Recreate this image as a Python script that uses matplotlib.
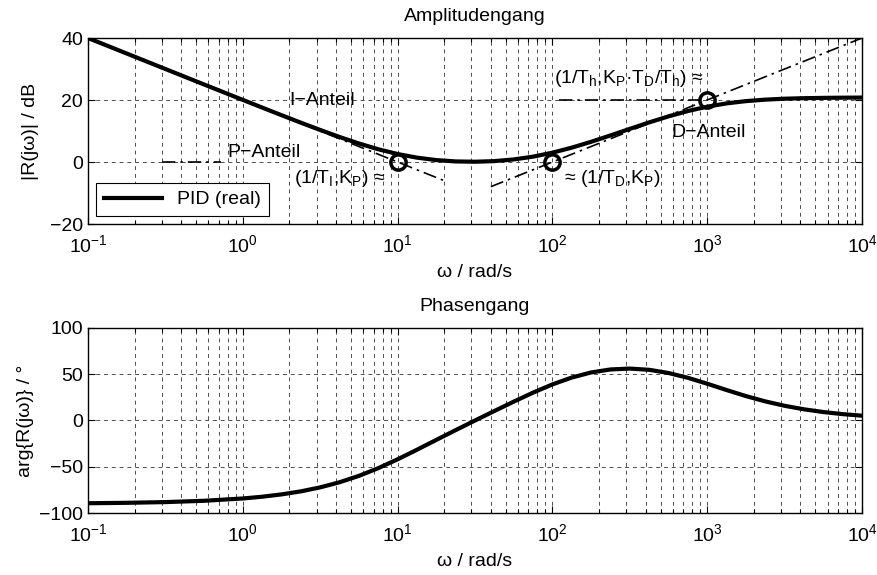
import matplotlib
matplotlib.use("Agg")
import matplotlib.pyplot as plt
from matplotlib.ticker import LogLocator, NullFormatter

plt.rcParams["font.family"] = ["Liberation Sans", "DejaVu Sans"]
plt.rcParams["mathtext.fontset"] = "custom"
plt.rcParams["mathtext.rm"] = "Liberation Sans"
plt.rcParams["mathtext.it"] = "Liberation Sans"
plt.rcParams["mathtext.default"] = "regular"
plt.rcParams["axes.unicode_minus"] = True

FS = 14

# PID (real): frequency points and values
w = [0.1, 0.1778, 0.3162, 0.5623, 1.0, 1.3335, 1.778, 2.3714, 3.162, 4.217,
     5.623, 7.499, 10.0, 13.335, 17.78, 23.714, 31.62, 42.17, 56.23, 74.99,
     100.0, 133.35, 177.8, 237.14, 316.2, 421.7, 562.3, 749.9, 1000.0, 1333.5,
     1778.0, 2371.4, 3162.0, 4217.0, 5623.0, 7499.0, 10000.0]
mag_db = [40.0, 35.0, 30.0, 25.01, 20.04, 17.56, 15.11, 12.69, 10.34, 8.08,
          5.98, 4.12, 2.58, 1.41, 0.62, 0.19, 0.09, 0.29, 0.83, 1.73,
          3.01, 4.63, 6.52, 8.57, 10.69, 12.78, 14.72, 16.44, 17.85, 18.91,
          19.64, 20.12, 20.42, 20.59, 20.69, 20.75, 20.79]
phase_deg = [-89.43, -88.98, -88.19, -86.78, -84.28, -82.39, -79.88, -76.59, -72.29, -66.76,
             -59.85, -51.52, -41.96, -31.61, -20.98, -10.41, -0.02, 10.24, 20.36, 30.11,
             39.0, 46.44, 51.92, 55.18, 56.12, 54.79, 51.35, 46.14, 39.75, 32.92,
             26.39, 20.65, 15.89, 12.09, 9.15, 6.89, 5.18]

# asymptotes
i_w, i_db = [0.1, 20.0], [40.0, -6.02]
p_w, p_db = [0.3, 0.72], [0.0, 0.0]
d_w, d_db = [40.0, 10000.0], [-7.96, 40.0]
h_w, h_db = [110.0, 1000.0], [20.0, 20.0]

# corner points
corner_w = [10.0, 100.0, 1000.0]
corner_db = [0.0, 0.0, 20.0]

fig = plt.figure(figsize=(8.78, 5.75), dpi=100)
ax1 = fig.add_axes([0.1002, 0.6104, 0.8816, 0.3235])
ax2 = fig.add_axes([0.1002, 0.1078, 0.8816, 0.3218])

dashdot = (0, (8, 3, 1.5, 3))


def style(ax):
    ax.set_xscale("log")
    ax.set_xlim(0.1, 1e4)
    ax.xaxis.set_major_locator(LogLocator(base=10, numticks=10))
    ax.xaxis.set_minor_locator(LogLocator(base=10, subs=range(2, 10), numticks=20))
    ax.xaxis.set_minor_formatter(NullFormatter())
    ax.grid(True, which="major", axis="both", linestyle=(0, (4, 4)), color="0.3", linewidth=0.7)
    ax.grid(True, which="minor", axis="x", linestyle=(0, (4, 4)), color="0.3", linewidth=0.7)
    ax.tick_params(which="both", direction="in", top=True, right=True, labelsize=FS)
    ax.tick_params(which="major", length=5, width=0.8)
    ax.tick_params(which="minor", length=3, width=0.8)
    ax.tick_params(axis="x", which="major", pad=7)
    for s in ax.spines.values():
        s.set_linewidth(1.0)
    ax.set_xlabel("ω / rad/s", fontsize=FS, labelpad=6)


# ===== Amplitudengang =====
ax1.plot(i_w, i_db, color="black", linestyle=dashdot, linewidth=1.2, zorder=2)
ax1.plot(p_w, p_db, color="black", linestyle=dashdot, linewidth=1.2, zorder=2)
ax1.plot(d_w, d_db, color="black", linestyle=dashdot, linewidth=1.2, zorder=2)
ax1.plot(h_w, h_db, color="black", linestyle=dashdot, linewidth=1.2, zorder=2)
ax1.plot(w, mag_db, color="black", linewidth=3, label="PID (real)", zorder=3)
ax1.plot(corner_w, corner_db, linestyle="none", marker="o", markersize=11,
         markerfacecolor="none", markeredgecolor="black", markeredgewidth=2.5, zorder=4)
style(ax1)
ax1.set_ylim(-20, 40)
ax1.set_yticks([-20, 0, 20, 40])
ax1.set_title("Amplitudengang", fontsize=FS, pad=12)
ax1.set_ylabel("|R(jω)| / dB", fontsize=FS, labelpad=8)

ax1.text(2.0, 20, "I−Anteil", fontsize=FS, ha="left", va="center")
ax1.text(0.8, 3.2, "P−Anteil", fontsize=FS, ha="left", va="center")
ax1.text(8.3, -5.3, r"(1/T$_I$,K$_P$) ≈", fontsize=FS, ha="right", va="center")
ax1.text(119, -5.3, r"≈ (1/T$_D$,K$_P$)", fontsize=FS, ha="left", va="center")
ax1.text(945, 27, r"(1/T$_h$,K$_P$·T$_D$/T$_h$) ≈", fontsize=FS, ha="right", va="center")
ax1.text(590, 9.4, "D−Anteil", fontsize=FS, ha="left", va="center")

leg = ax1.legend(loc="lower left", fontsize=FS, handlelength=3, fancybox=False,
                 framealpha=1, edgecolor="black", borderaxespad=0.4)
leg.get_frame().set_linewidth(0.8)

# ===== Phasengang =====
ax2.plot(w, phase_deg, color="black", linewidth=3, zorder=3)
style(ax2)
ax2.set_ylim(-100, 100)
ax2.set_yticks([-100, -50, 0, 50, 100])
ax2.set_title("Phasengang", fontsize=FS, pad=12)
ax2.set_ylabel("arg{R(jω)} / °", fontsize=FS, labelpad=4)

fig.savefig("out.png", dpi=100)
